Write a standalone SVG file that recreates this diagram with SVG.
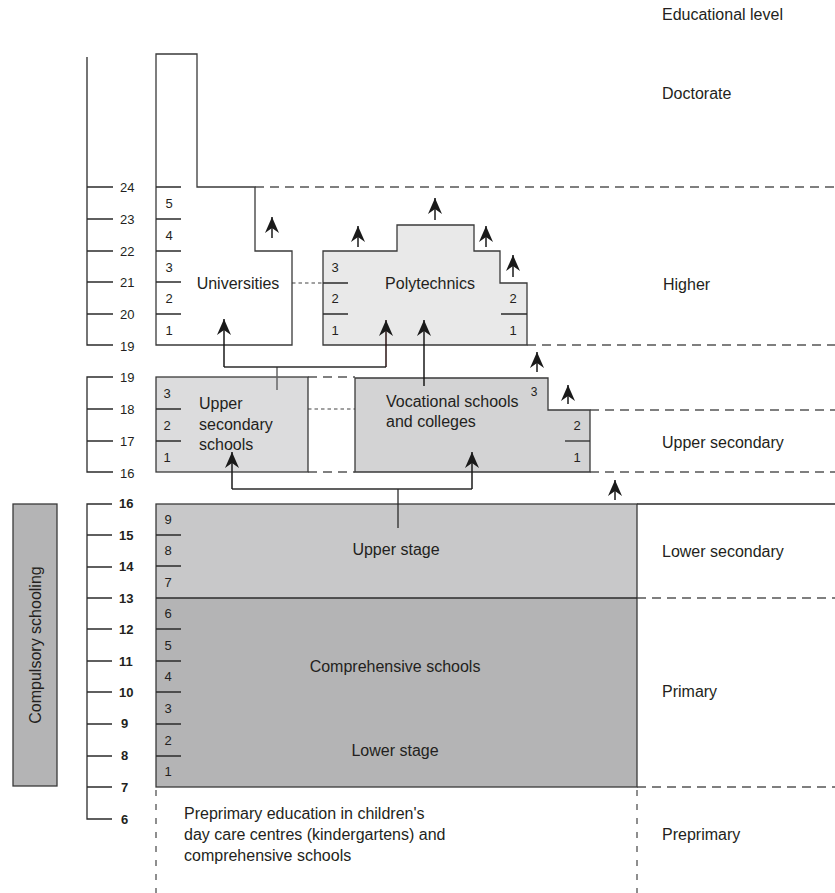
<svg xmlns="http://www.w3.org/2000/svg" width="835" height="893" viewBox="0 0 835 893">
<style>
text{font-family:"Liberation Sans",Arial,sans-serif;fill:#231f20;dominant-baseline:central}
.lbl{font-size:16px}
.ax{font-size:13px}
.axb{font-size:13px;font-weight:bold}
.yr{font-size:13px;text-anchor:middle}
.ln{stroke:#2b2b2b;stroke-width:1.3;fill:none}
.box{stroke:#3a3a3a;stroke-width:1.3}
.dash{stroke:#555;stroke-width:1.3;stroke-dasharray:9 6;fill:none}
.dot{stroke:#444;stroke-width:1.2;stroke-dasharray:3.5 3;fill:none}
.vd{stroke:#444;stroke-width:1.2;stroke-dasharray:6 8;fill:none}
.arr{stroke:#1a1a1a;stroke-width:1.5;fill:none;marker-end:url(#ah)}
</style>
<defs>
<marker id="ah" viewBox="-17 -8 17 16" refX="0" refY="0" markerWidth="17" markerHeight="16" markerUnits="userSpaceOnUse" orient="auto">
<path d="M0,0 L-16,-7 L-11,0 L-16,7 Z" fill="#1a1a1a"/>
</marker>
</defs>

<g id="level-labels">
<text class="lbl" x="662" y="14">Educational level</text>
<text class="lbl" x="662" y="93">Doctorate</text>
<text class="lbl" x="663" y="284">Higher</text>
<text class="lbl" x="662" y="442">Upper secondary</text>
<text class="lbl" x="662" y="551">Lower secondary</text>
<text class="lbl" x="662" y="691">Primary</text>
<text class="lbl" x="662" y="834">Preprimary</text>
</g>

<g id="level-lines">
<line class="dash" x1="255" y1="187" x2="835" y2="187"/>
<line class="dash" x1="527" y1="345" x2="835" y2="345"/>
<line class="dash" x1="590" y1="410" x2="835" y2="410"/>
<line class="dash" x1="590" y1="472" x2="835" y2="472"/>
<line class="ln" x1="637" y1="504" x2="835" y2="504"/>
<line class="dash" x1="637" y1="598" x2="835" y2="598"/>
<line class="dash" x1="637" y1="787" x2="835" y2="787"/>
<line class="vd" x1="156" y1="790" x2="156" y2="893"/>
<line class="vd" x1="637" y1="790" x2="637" y2="893"/>
<line class="dash" x1="308" y1="377" x2="355" y2="377"/>
<line class="dot" x1="308" y1="409" x2="355" y2="409"/>
<line class="dash" x1="308" y1="472" x2="355" y2="472"/>
<line class="dot" x1="292" y1="283" x2="323" y2="283"/>
</g>

<g id="axis-higher">
<path class="ln" d="M87,57 V345 H113 M87,187 H113 M87,219 H113 M87,251 H113 M87,282 H113 M87,314 H113"/>
<text class="ax" x="120" y="187">24</text>
<text class="ax" x="120" y="219">23</text>
<text class="ax" x="120" y="251">22</text>
<text class="ax" x="120" y="282">21</text>
<text class="ax" x="120" y="314">20</text>
<text class="ax" x="120" y="346">19</text>
</g>

<g id="axis-upper-secondary">
<path class="ln" d="M113,377 H87 V472 H113 M87,409 H113 M87,441 H113"/>
<text class="ax" x="120" y="377">19</text>
<text class="ax" x="120" y="409">18</text>
<text class="ax" x="120" y="441">17</text>
<text class="ax" x="120" y="473">16</text>
</g>

<g id="axis-compulsory">
<path class="ln" d="M112,504 H87 V819 H112 M87,535 H112 M87,567 H112 M87,598 H112 M87,629 H112 M87,661 H112 M87,692 H112 M87,724 H112 M87,756 H112 M87,787 H112"/>
<text class="axb" x="119" y="503">16</text>
<text class="axb" x="119" y="535">15</text>
<text class="axb" x="119" y="566">14</text>
<text class="axb" x="119" y="598">13</text>
<text class="axb" x="119" y="629">12</text>
<text class="axb" x="119" y="661">11</text>
<text class="axb" x="119" y="692">10</text>
<text class="axb" x="121" y="723">9</text>
<text class="axb" x="121" y="755">8</text>
<text class="axb" x="121" y="787">7</text>
<text class="axb" x="121" y="819">6</text>
</g>

<g id="compulsory-schooling">
<rect x="13" y="504" width="44" height="282" fill="#b4b4b5" stroke="#3a3a3a" stroke-width="1.3"/>
<text class="lbl" x="35" y="645" text-anchor="middle" transform="rotate(-90 35 645)">Compulsory schooling</text>
</g>

<g id="universities">
<path class="box" d="M156,54 H197 V187 H255 V251 H292 V345 H156 Z" fill="#ffffff"/>
<path class="ln" d="M156,187 H181 M156,219 H181 M156,251 H181 M156,282 H181 M156,314 H181"/>
<text class="yr" x="169" y="203">5</text>
<text class="yr" x="169" y="235">4</text>
<text class="yr" x="169" y="267">3</text>
<text class="yr" x="169" y="298">2</text>
<text class="yr" x="169" y="330">1</text>
<text class="lbl" x="238" y="283" text-anchor="middle">Universities</text>
</g>

<g id="polytechnics">
<path class="box" d="M323,251 H397 V225 H474 V251 H500 V283 H527 V345 H323 Z" fill="#e9e9e9"/>
<path class="ln" d="M323,283 H348 M323,314 H348 M501,314 H527"/>
<text class="yr" x="335" y="267">3</text>
<text class="yr" x="335" y="298">2</text>
<text class="yr" x="335" y="330">1</text>
<text class="yr" x="513" y="298">2</text>
<text class="yr" x="513" y="330">1</text>
<text class="lbl" x="430" y="283" text-anchor="middle">Polytechnics</text>
</g>

<g id="upper-secondary-schools">
<rect class="box" x="156" y="377" width="152" height="95" fill="#dcdcdd"/>
<path class="ln" d="M156,409 H181 M156,441 H181"/>
<text class="yr" x="167" y="393">3</text>
<text class="yr" x="167" y="425">2</text>
<text class="yr" x="167" y="457">1</text>
<text class="lbl" x="199" y="403">Upper</text>
<text class="lbl" x="199" y="424">secondary</text>
<text class="lbl" x="199" y="444">schools</text>
</g>

<g id="vocational-schools">
<path class="box" d="M355,378 H548 V410 H590 V472 H355 Z" fill="#d3d3d4"/>
<path class="ln" d="M565,441 H590"/>
<text class="yr" x="534" y="392" style="font-size:12px">3</text>
<text class="yr" x="577" y="425">2</text>
<text class="yr" x="577" y="457">1</text>
<text class="lbl" x="386" y="401">Vocational schools</text>
<text class="lbl" x="386" y="421">and colleges</text>
</g>

<g id="comprehensive-schools">
<rect x="156" y="504" width="481" height="94" fill="#c8c8c9"/>
<rect x="156" y="598" width="481" height="189" fill="#b4b4b5"/>
<rect class="box" x="156" y="504" width="481" height="283" fill="none"/>
<line class="ln" x1="156" y1="598" x2="637" y2="598"/>
<path class="ln" d="M156,535 H181 M156,566 H181 M156,629 H181 M156,661 H181 M156,692 H181 M156,724 H181 M156,756 H181"/>
<text class="yr" x="168" y="519">9</text>
<text class="yr" x="168" y="550">8</text>
<text class="yr" x="168" y="582">7</text>
<text class="yr" x="168" y="613">6</text>
<text class="yr" x="168" y="645">5</text>
<text class="yr" x="168" y="676">4</text>
<text class="yr" x="168" y="708">3</text>
<text class="yr" x="168" y="740">2</text>
<text class="yr" x="168" y="771">1</text>
<text class="lbl" x="396" y="549" text-anchor="middle">Upper stage</text>
<text class="lbl" x="395" y="666" text-anchor="middle">Comprehensive schools</text>
<text class="lbl" x="395" y="750" text-anchor="middle">Lower stage</text>
</g>

<g id="preprimary">
<text class="lbl" x="184" y="813">Preprimary education in children's</text>
<text class="lbl" x="184" y="834">day care centres (kindergartens) and</text>
<text class="lbl" x="184" y="855">comprehensive schools</text>
</g>

<g id="connectors">
<line x1="277" y1="390" x2="277" y2="367" stroke="#666" stroke-width="1.5"/>
<line class="ln" x1="224" y1="367" x2="386" y2="367"/>
<line class="arr" x1="224" y1="367" x2="224" y2="319"/>
<line class="arr" x1="386" y1="367" x2="386" y2="320" style="stroke:#2a1515"/>
<line class="arr" x1="424" y1="386" x2="424" y2="320"/>
<line class="ln" x1="398" y1="528" x2="398" y2="489"/>
<line class="ln" x1="232" y1="489" x2="472" y2="489"/>
<line class="arr" x1="232" y1="489" x2="232" y2="452"/>
<line class="arr" x1="472" y1="489" x2="472" y2="452"/>
<line class="arr" x1="272" y1="238" x2="272" y2="217"/>
<line class="arr" x1="358" y1="247" x2="358" y2="226"/>
<line class="arr" x1="435" y1="220" x2="435" y2="198"/>
<line class="arr" x1="486" y1="247" x2="486" y2="226"/>
<line class="arr" x1="513" y1="277" x2="513" y2="255"/>
<line class="arr" x1="537" y1="372" x2="537" y2="352"/>
<line class="arr" x1="568" y1="404" x2="568" y2="385"/>
<line class="arr" x1="615" y1="500" x2="615" y2="480"/>
</g>
</svg>
